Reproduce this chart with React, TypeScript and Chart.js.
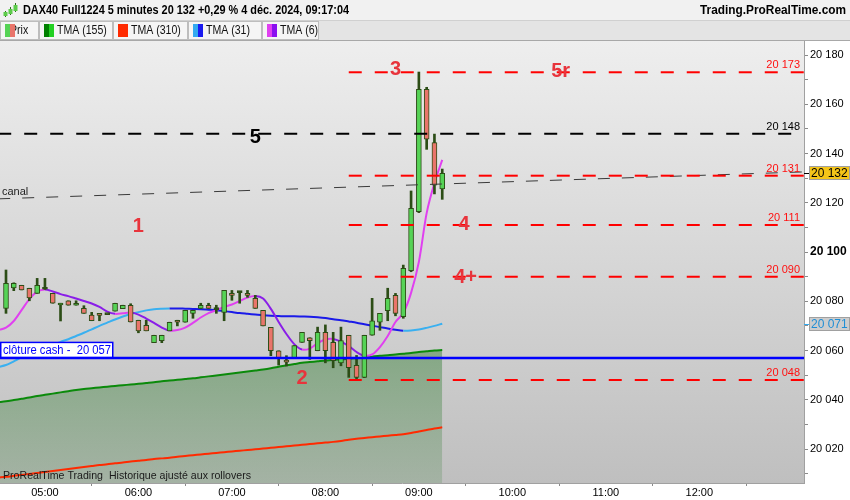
import { useEffect, useRef } from 'react';
import { Chart, registerables } from 'chart.js';

Chart.register(...registerables);

const FONT = '"Liberation Sans", Arial, sans-serif';

// 5 minute bars (first one only feeds the averages, candles start at 04:35)
const times = [
  '04:30', '04:35', '04:40', '04:45', '04:50', '04:55',
  '05:00', '05:05', '05:10', '05:15', '05:20', '05:25', '05:30', '05:35', '05:40', '05:45', '05:50', '05:55',
  '06:00', '06:05', '06:10', '06:15', '06:20', '06:25', '06:30', '06:35', '06:40', '06:45', '06:50', '06:55',
  '07:00', '07:05', '07:10', '07:15', '07:20', '07:25', '07:30', '07:35', '07:40', '07:45', '07:50', '07:55',
  '08:00', '08:05', '08:10', '08:15', '08:20', '08:25', '08:30', '08:35', '08:40', '08:45', '08:50', '08:55',
  '09:00', '09:05', '09:10', '09:15',
];

const opens = [
  20077.1, 20085.4, 20086.5, 20085.3, 20083.2, 20085.2, 20083.2, 20078.5, 20080.2, 20078.4,
  20077.1, 20074.4, 20075.1, 20074.8, 20076.0, 20077.0, 20078.4, 20072.3, 20070.2, 20063.2,
  20064.0, 20068.0, 20072.3, 20071.5, 20075.1, 20077.1, 20078.4, 20076.8, 20075.5, 20083.2,
  20083.7, 20083.2, 20081.2, 20076.3, 20069.4, 20059.9, 20056.1, 20057.1, 20063.3, 20065.2,
  20059.9, 20067.4, 20063.3, 20055.0, 20066.2, 20054.0, 20049.1, 20066.2, 20071.5, 20076.2,
  20082.4, 20073.7, 20092.4, 20116.4, 20166.1, 20144.4, 20125.6,
];
const highs = [
  20092.7, 20087.5, 20086.5, 20085.3, 20089.3, 20089.3, 20083.2, 20079.2, 20080.2, 20080.2,
  20078.2, 20075.5, 20075.1, 20074.8, 20079.2, 20078.4, 20079.0, 20072.3, 20072.3, 20066.2,
  20066.2, 20071.5, 20072.3, 20076.3, 20076.3, 20079.2, 20079.2, 20078.4, 20084.4, 20084.4,
  20084.0, 20084.4, 20082.4, 20076.3, 20069.4, 20059.9, 20057.9, 20062.0, 20067.4, 20065.2,
  20069.5, 20070.4, 20067.4, 20069.5, 20066.2, 20058.0, 20066.2, 20081.2, 20075.1, 20085.3,
  20083.2, 20094.7, 20124.8, 20173.1, 20166.9, 20147.9, 20133.7,
];
const lows = [
  20075.1, 20084.3, 20084.6, 20080.2, 20083.2, 20084.8, 20079.2, 20072.0, 20078.4, 20078.4,
  20075.1, 20072.1, 20072.1, 20074.6, 20076.0, 20077.0, 20071.6, 20067.2, 20068.0, 20063.2,
  20063.2, 20068.0, 20070.0, 20071.5, 20073.1, 20077.1, 20077.1, 20075.1, 20072.1, 20080.4,
  20079.2, 20081.6, 20077.1, 20070.0, 20057.9, 20054.1, 20053.7, 20057.1, 20063.3, 20056.4,
  20059.9, 20055.0, 20053.0, 20053.8, 20049.1, 20048.0, 20049.0, 20066.2, 20068.2, 20072.1,
  20074.1, 20073.1, 20092.0, 20116.0, 20141.7, 20123.6, 20121.4,
];
const closes = [
  20087.3, 20087.3, 20084.6, 20081.4, 20086.5, 20084.9, 20079.2, 20079.2, 20078.4, 20079.2,
  20075.1, 20072.1, 20074.3, 20074.6, 20079.2, 20078.4, 20071.6, 20068.0, 20068.0, 20066.2,
  20066.2, 20071.5, 20071.5, 20076.3, 20076.3, 20078.4, 20077.1, 20076.6, 20084.4, 20082.4,
  20083.5, 20082.4, 20077.1, 20070.0, 20059.9, 20057.1, 20055.3, 20062.0, 20067.4, 20064.0,
  20067.4, 20059.9, 20055.9, 20064.0, 20053.0, 20049.1, 20066.2, 20072.1, 20075.1, 20081.2,
  20075.1, 20093.4, 20117.7, 20166.1, 20145.8, 20127.2, 20132.0,
];

const tma155 = [
  20039.0, 20039.4, 20039.9, 20040.4, 20040.9, 20041.5, 20042.0, 20042.5, 20043.0, 20043.5,
  20044.0, 20044.4, 20044.7, 20045.0, 20045.3, 20045.6, 20045.9, 20046.2, 20046.5, 20046.8,
  20047.1, 20047.5, 20047.8, 20048.1, 20048.4, 20048.7, 20049.1, 20049.5, 20049.9, 20050.3,
  20050.7, 20051.1, 20051.5, 20051.9, 20052.3, 20052.8, 20053.4, 20054.0, 20054.5, 20055.0,
  20055.3, 20055.6, 20055.9, 20056.1, 20056.4, 20056.7, 20056.9, 20057.1, 20057.5, 20057.9,
  20058.1, 20058.4, 20058.7, 20059.0, 20059.4, 20059.7, 20060.0, 20060.2,
];
const tma310 = [
  20008.4, 20008.7, 20009.1, 20009.5, 20009.9, 20010.3, 20010.7, 20011.1, 20011.5, 20011.9,
  20012.3, 20012.7, 20013.1, 20013.5, 20013.8, 20014.2, 20014.5, 20014.9, 20015.2, 20015.5,
  20015.9, 20016.2, 20016.5, 20016.9, 20017.2, 20017.5, 20017.8, 20018.1, 20018.4, 20018.7,
  20019.0, 20019.3, 20019.6, 20019.9, 20020.2, 20020.5, 20020.8, 20021.1, 20021.4, 20021.7,
  20022.0, 20022.3, 20022.6, 20022.9, 20023.3, 20023.8, 20024.2, 20024.5, 20024.8, 20025.1,
  20025.4, 20025.7, 20026.0, 20026.5, 20027.1, 20027.7, 20028.3, 20028.8,
];
const tma31 = [
  20053.3, 20054.1, 20055.6, 20057.2, 20058.6, 20059.9, 20061.0, 20062.2, 20063.5, 20064.6,
  20065.9, 20067.2, 20068.6, 20070.0, 20071.3, 20072.6, 20073.8, 20074.8, 20075.6, 20076.3,
  20076.8, 20077.0, 20077.1, 20077.1, 20077.0, 20076.9, 20076.8, 20076.6, 20076.4, 20076.0,
  20075.6, 20075.2, 20074.9, 20074.6, 20074.3, 20074.1, 20074.0, 20073.9, 20073.9, 20073.8,
  20073.7, 20073.5, 20073.2, 20072.7, 20072.3, 20071.8, 20071.3, 20070.7, 20070.1, 20069.5,
  20068.9, 20068.4, 20068.0, 20068.1, 20068.5, 20069.2, 20070.0, 20070.9,
];
const tma6 = [
  20068.3, 20069.3, 20072.0, 20076.4, 20080.9, 20083.9, 20084.8, 20084.0, 20082.9, 20082.1,
  20081.1, 20080.1, 20079.1, 20077.7, 20075.8, 20074.9, 20075.1, 20075.4, 20074.6, 20073.0,
  20071.2, 20069.3, 20068.1, 20068.3, 20069.3, 20071.2, 20073.4, 20075.2, 20076.4, 20077.7,
  20078.7, 20080.1, 20081.5, 20082.1, 20081.1, 20076.9, 20071.6, 20066.7, 20062.6, 20060.4,
  20060.8, 20063.0, 20064.5, 20064.7, 20063.6, 20061.8, 20059.4, 20057.9, 20058.4, 20061.4,
  20065.9, 20071.6, 20075.2, 20083.4, 20096.0, 20115.8, 20128.0, 20137.4,
];

const redLevels = [20173, 20131, 20111, 20090, 20048];
const redLevelsFrom = '08:15';
const blackLevels = [20148];
const cashClose = 20057;
const canal = [
  { t: '04:30', v: 20121.6 },
  { t: '13:10', v: 20132.6 },
];

const marks = [
  { text: '3', t: '08:45', v: 20174.3, color: '#e8343c' },
  { text: '5r', t: '10:31', v: 20173.5, color: '#e8343c' },
  { text: '5', t: '07:15', v: 20146.7, color: '#000000' },
  { text: '1', t: '06:00', v: 20110.2, color: '#e8343c' },
  { text: '4', t: '09:29', v: 20111.0, color: '#e8343c' },
  { text: '4+', t: '09:30', v: 20089.8, color: '#e8343c' },
  { text: '2', t: '07:45', v: 20048.8, color: '#e8343c' },
];

const priceTicks = [
  20010, 20020, 20030, 20040, 20050, 20060, 20070, 20080, 20090,
  20100, 20110, 20120, 20130, 20140, 20150, 20160, 20170, 20180,
];
const hourTicks = ['05:00', '06:00', '07:00', '08:00', '09:00', '10:00', '11:00', '12:00', '13:00'];
const hourLabels = ['05:00', '06:00', '07:00', '08:00', '09:00', '10:00', '11:00', '12:00', ''];

const viewStart = 271.15;
const viewEnd = 787.2;
const priceMin = 20006.2;
const priceMax = 20185.7;

const GREEN = '#56d356';
const RED = '#e9756b';
const WICK = '#2c4d16';

const toMin = (s: string) => {
  const [h, m] = s.split(':').map(Number);
  return h * 60 + m;
};
const fmt = (v: number) => String(Math.round(v)).replace(/\B(?=(\d{3})+(?!\d))/g, ' ');

const chrome = {
  id: 'chrome',
  beforeDraw(chart: Chart) {
    const { ctx, chartArea: a, width, height } = chart;
    ctx.save();
    ctx.fillStyle = '#ffffff';
    ctx.fillRect(0, 0, width, height);

    const g = ctx.createLinearGradient(0, a.top, 0, a.bottom);
    g.addColorStop(0, '#eeeeee');
    g.addColorStop(1, '#bfbfbf');
    ctx.fillStyle = g;
    ctx.fillRect(a.left, a.top, a.right - a.left, a.bottom - a.top);

    // title bar
    ctx.fillStyle = '#f1f1f1';
    ctx.fillRect(0, 0, width, 20);
    ctx.fillStyle = '#d0d0d0';
    ctx.fillRect(0, 20, width, 1);
    [[5, 11, 17, 12, 16], [10, 7, 15, 9, 14], [15, 3, 12, 5, 11]].forEach(([x, t, b, bt, bb]) => {
      ctx.fillStyle = '#2f6a1c';
      ctx.fillRect(x, t, 1, b - t);
      ctx.fillStyle = '#5ccc4a';
      ctx.fillRect(x - 1.5, bt, 4, bb - bt);
    });
    ctx.fillStyle = '#000';
    ctx.font = `bold 12px ${FONT}`;
    ctx.textBaseline = 'middle';
    ctx.textAlign = 'left';
    const title = `DAX40 Full1224 5 minutes ${fmt(closes[closes.length - 1])} +0,29 % 4 déc. 2024, 09:17:04`;
    ctx.fillText(title, 23, 11, 326);
    ctx.textAlign = 'right';
    ctx.fillText('Trading.ProRealTime.com', 846, 11, 146);

    // legend row
    ctx.fillStyle = '#e4e4e4';
    ctx.fillRect(0, 21, width, 19);
    const tabs = [
      { label: 'Prix', c: [GREEN, RED], w: 39 },
      { label: 'TMA (155)', c: ['#008000', '#22d022'], w: 74 },
      { label: 'TMA (310)', c: ['#ff2a00', '#ff2a00'], w: 75 },
      { label: 'TMA (31)', c: ['#33aaf0', '#1a1af0'], w: 74 },
      { label: 'TMA (6)', c: ['#e040f0', '#8a10f0'], w: 57 },
    ];
    let x = 0;
    ctx.font = `12px ${FONT}`;
    ctx.textAlign = 'left';
    tabs.forEach((tab, i) => {
      ctx.fillStyle = '#f5f5f5';
      ctx.fillRect(x, 21, tab.w, 19);
      ctx.strokeStyle = '#bdbdbd';
      ctx.lineWidth = 1;
      ctx.strokeRect(x + 0.5, 21.5, tab.w - 1, 18);
      ctx.fillStyle = '#111';
      const tx = i === 0 ? x + 10 : x + 18;
      ctx.fillText(tab.label, tx, 31, ctx.measureText(tab.label).width * 0.88);
      ctx.fillStyle = tab.c[0];
      ctx.fillRect(x + 5, 24, 5, 13);
      ctx.fillStyle = tab.c[1];
      ctx.fillRect(x + 10, 24, 5, 13);
      x += tab.w;
    });
    ctx.fillStyle = '#a8a8a8';
    ctx.fillRect(0, 40, width, 1);
    ctx.restore();
  },
  afterDatasetsDraw(chart: Chart) {
    const { ctx, chartArea: a, scales } = chart;
    const xs = scales.x;
    const ys = scales.y;
    ctx.save();
    ctx.beginPath();
    ctx.rect(a.left, a.top, a.right - a.left, a.bottom - a.top);
    ctx.clip();

    ctx.textAlign = 'right';
    ctx.textBaseline = 'alphabetic';
    ctx.font = `11px ${FONT}`;
    redLevels.forEach((v) => {
      ctx.fillStyle = '#ff1010';
      ctx.fillText(fmt(v), a.right - 4, ys.getPixelForValue(v) - 4);
    });
    blackLevels.forEach((v) => {
      ctx.fillStyle = '#000';
      ctx.fillText(fmt(v), a.right - 4, ys.getPixelForValue(v) - 4);
    });

    // canal label
    const cy = ys.getPixelForValue(canal[0].v + ((canal[1].v - canal[0].v) * (viewStart - toMin(canal[0].t))) / (toMin(canal[1].t) - toMin(canal[0].t)));
    ctx.textAlign = 'left';
    ctx.fillStyle = '#222';
    ctx.fillText('canal', a.left + 2, cy - 4);

    // clôture cash box
    const by = ys.getPixelForValue(cashClose);
    ctx.fillStyle = '#fff';
    ctx.fillRect(a.left, by - 16, 113, 16);
    ctx.strokeStyle = '#0000ff';
    ctx.lineWidth = 1.5;
    ctx.strokeRect(a.left + 0.75, by - 15.5, 112, 15);
    ctx.fillStyle = '#0000ff';
    ctx.font = `12px ${FONT}`;
    ctx.textBaseline = 'middle';
    ctx.fillText(`clôture cash -  ${fmt(cashClose)}`, a.left + 3, by - 7.5, 108);

    // marks
    ctx.font = `bold 20px ${FONT}`;
    ctx.textAlign = 'center';
    marks.forEach((m) => {
      ctx.fillStyle = m.color;
      ctx.fillText(m.text, xs.getPixelForValue(toMin(m.t)), ys.getPixelForValue(m.v));
    });

    ctx.font = `11px ${FONT}`;
    ctx.textAlign = 'left';
    ctx.fillStyle = '#1a1a1a';
    ctx.fillText('ProRealTime Trading  Historique ajusté aux rollovers', a.left + 3, a.bottom - 7, 248);
    ctx.restore();
  },
  afterDraw(chart: Chart) {
    const { ctx, chartArea: a, scales } = chart;
    const ys = scales.y;
    ctx.save();
    ctx.font = `12px ${FONT}`;
    ctx.textBaseline = 'middle';
    ctx.textAlign = 'left';
    const boxes = [
      { v: closes[closes.length - 1], fill: '#f5c518', text: '#000', tick: '#000' },
      { v: tma31[tma31.length - 1], fill: '#cdcdcd', text: '#1e8ed6', tick: '#33aaf0' },
    ];
    boxes.forEach((b) => {
      const y = Math.round(ys.getPixelForValue(b.v));
      ctx.fillStyle = b.tick;
      ctx.fillRect(a.right, y, 5, 1);
      ctx.fillStyle = b.fill;
      ctx.fillRect(a.right + 5, y - 7, 41, 14);
      ctx.strokeStyle = '#a0a0a0';
      ctx.lineWidth = 1;
      ctx.strokeRect(a.right + 5.5, y - 6.5, 40, 13);
      ctx.fillStyle = b.text;
      ctx.fillText(fmt(b.v), a.right + 7, y + 0.5, 37);
    });
    ctx.restore();
  },
};

export default function App() {
  const canvasRef = useRef<HTMLCanvasElement>(null);
  const chartRef = useRef<Chart | null>(null);

  useEffect(() => {
    if (!canvasRef.current) return;
    if (chartRef.current) chartRef.current.destroy();

    const lineT = times.map(toMin);
    const candleT = lineT.slice(1);
    const series = (vals: number[]) => vals.map((v, i) => ({ x: lineT[i], y: v }));
    const trend = (up: string, down: string) => ({
      borderColor: (c: any) => (c.p1.parsed.y > c.p0.parsed.y ? up : down),
    });
    const flat = (v: number, from: number, color: string, width: number, dash: number[]) => ({
      type: 'line' as const,
      data: [{ x: from, y: v }, { x: viewEnd, y: v }],
      borderColor: color,
      borderWidth: width,
      borderDash: dash,
      pointRadius: 0,
      order: 1,
    });

    chartRef.current = new Chart(canvasRef.current, {
      type: 'bar',
      data: {
        datasets: [
          {
            type: 'line',
            data: series(tma155),
            borderColor: '#0b8a0b',
            borderWidth: 2,
            pointRadius: 0,
            tension: 0.3,
            fill: 'start',
            backgroundColor: (c: any) => {
              const area = c.chart.chartArea;
              if (!area) return 'rgba(0,100,0,0.3)';
              const g = c.chart.ctx.createLinearGradient(0, 345, 0, area.bottom);
              g.addColorStop(0, 'rgba(0,100,0,0.36)');
              g.addColorStop(1, 'rgba(0,100,0,0.14)');
              return g;
            },
            order: 10,
          },
          {
            type: 'line',
            data: series(tma310),
            borderColor: '#ff2a00',
            borderWidth: 2,
            pointRadius: 0,
            tension: 0.3,
            order: 9,
          },
          {
            type: 'line',
            data: series(tma31),
            borderColor: '#1a1ae8',
            segment: trend('#3ab0f0', '#1a1ae8'),
            borderWidth: 2,
            pointRadius: 0,
            tension: 0.3,
            order: 8,
          },
          {
            type: 'line',
            data: series(tma6),
            borderColor: '#8a1ee8',
            segment: trend('#e040f0', '#8a1ee8'),
            borderWidth: 2,
            pointRadius: 0,
            tension: 0.3,
            order: 7,
          },
          {
            type: 'bar',
            data: candleT.map((t, i) => ({ x: t, y: [lows[i], highs[i]] })) as any,
            backgroundColor: WICK,
            barThickness: 2,
            grouped: false,
            order: 5,
          },
          {
            type: 'bar',
            data: candleT.map((t, i) => ({ x: t, y: [opens[i], closes[i]] })) as any,
            backgroundColor: candleT.map((_, i) =>
              Math.abs(closes[i] - opens[i]) < 0.5 ? WICK : closes[i] > opens[i] ? GREEN : RED,
            ),
            borderColor: WICK,
            borderWidth: 1,
            borderSkipped: false,
            barThickness: 5,
            minBarLength: 2,
            grouped: false,
            order: 4,
          },
          {
            type: 'line',
            data: canal.map((p) => ({ x: toMin(p.t), y: p.v })),
            borderColor: '#3a3a3a',
            borderWidth: 1,
            borderDash: [12, 12],
            pointRadius: 0,
            order: 3,
          },
          ...redLevels.map((v) => flat(v, toMin(redLevelsFrom), '#ff0000', 2, [13, 13])),
          ...blackLevels.map((v) => flat(v, lineT[0], '#000000', 2, [13, 13])),
          flat(cashClose, lineT[0], '#0000ff', 2.5, []),
        ] as any,
      },
      plugins: [chrome],
      options: {
        animation: false,
        responsive: false,
        events: [],
        layout: { padding: { top: 41, left: 0, right: 0, bottom: 0 } },
        plugins: {
          legend: { display: false },
          tooltip: { enabled: false },
        },
        scales: {
          x: {
            type: 'linear',
            min: viewStart,
            max: viewEnd,
            offset: false,
            afterFit: (s: any) => {
              s.height = 17;
            },
            afterBuildTicks: (s: any) => {
              s.ticks = hourTicks.map((h) => ({ value: toMin(h) }));
            },
            grid: { drawOnChartArea: false, drawTicks: true, tickLength: 3, color: '#8a8a8a' },
            border: { display: true, color: '#a0a0a0' },
            ticks: {
              autoSkip: false,
              maxRotation: 0,
              padding: 0,
              color: '#000',
              font: { family: FONT, size: 11 },
              callback: (v: any) => {
                const i = hourTicks.findIndex((h) => toMin(h) === v);
                return i >= 0 ? hourLabels[i] : '';
              },
            },
          },
          y: {
            type: 'linear',
            position: 'right',
            min: priceMin,
            max: priceMax,
            afterFit: (s: any) => {
              s.width = 46;
            },
            afterBuildTicks: (s: any) => {
              s.ticks = priceTicks.map((v) => ({ value: v }));
            },
            grid: { drawOnChartArea: false, drawTicks: true, tickLength: 4, color: '#8a8a8a' },
            border: { display: true, color: '#a0a0a0' },
            ticks: {
              autoSkip: false,
              padding: 2,
              color: '#000',
              font: (c: any) =>
                c.tick && c.tick.value === 20100
                  ? { family: FONT, size: 12, weight: 'bold' }
                  : { family: FONT, size: 11, weight: 'normal' },
              callback: (v: any) => (Number(v) % 20 === 0 ? fmt(Number(v)) : ''),
            },
          },
        },
      },
    });

    return () => {
      if (chartRef.current) {
        chartRef.current.destroy();
        chartRef.current = null;
      }
    };
  }, []);

  return (
    <div style={{ position: 'fixed', left: 0, top: 0, width: 850, height: 500 }}>
      <canvas ref={canvasRef} width={850} height={500} style={{ display: 'block' }}></canvas>
    </div>
  );
}
